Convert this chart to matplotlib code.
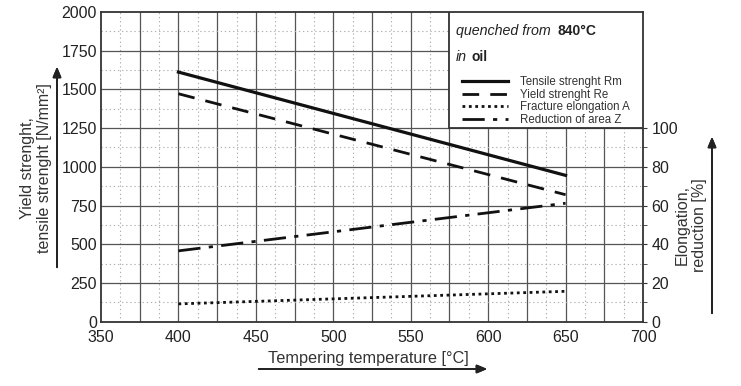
import matplotlib.pyplot as plt
from matplotlib.patches import Rectangle
from matplotlib.lines import Line2D
import numpy as np

plt.rcParams['font.family'] = ['Liberation Sans', 'DejaVu Sans']

# data
temp = [400, 650]
tensile_rm = [1612, 945]
yield_re = [1472, 820]
elong_a = [9.2, 15.7]
reduct_z = [36.6, 61.2]

xticks = np.arange(350, 701, 50)
yticks = np.arange(0, 2001, 250)
rticks = np.arange(0, 101, 20)

W, H = 741, 386
fig = plt.figure(figsize=(W / 100, H / 100), dpi=100)
ax = fig.add_axes([101 / W, 1 - 321.7 / H, (643 - 101) / W, (321.7 - 12) / H])

ax.set_xlim(350, 700)
ax.set_ylim(0, 2000)
ax.set_xticks(xticks)
ax.set_yticks(yticks)
ax.tick_params(axis='both', which='both', length=0, labelsize=11.5, colors='#222222')
ax.tick_params(axis='x', pad=6)
ax.tick_params(axis='y', pad=3)

# grid: solid every 25 / 250, dotted in between
for x in np.arange(375, 700, 25):
    ax.axvline(x, color='#555555', lw=0.9, zorder=1)
for x in np.arange(362.5, 700, 25):
    ax.axvline(x, color='#b0b0b0', lw=0.8, ls=(0, (1.2, 2.5)), zorder=1)
for y in np.arange(250, 2000, 250):
    ax.axhline(y, color='#555555', lw=0.9, zorder=1)
for y in np.arange(125, 2000, 250):
    ax.axhline(y, color='#b0b0b0', lw=0.8, ls=(0, (1.2, 2.5)), zorder=1)

for s in ax.spines.values():
    s.set_color('#333333')
    s.set_linewidth(1.3)

ax.plot(temp, tensile_rm, color='#111111', lw=2.3, zorder=3)
ax.plot(temp, yield_re, color='#111111', lw=2.0, ls=(0, (6, 4)), zorder=3)

ax2 = ax.twinx()
ax2.set_ylim(0, 160)
ax2.set_yticks(rticks)
ax2.set_yticks(np.arange(0, 101, 10), minor=True)
ax2.tick_params(axis='y', which='major', length=3, color='#333333', labelsize=11.5,
                labelcolor='#222222', pad=3)
ax2.tick_params(axis='y', which='minor', length=3, color='#333333')
for s in ax2.spines.values():
    s.set_visible(False)
ax2.plot(temp, elong_a, color='#111111', lw=2.0, ls=(0, (1, 1.3)), zorder=3)
ax2.plot(temp, reduct_z, color='#111111', lw=2.0, ls=(0, (8, 3, 1.5, 3)), zorder=3)

# info box in top-right corner
ax.add_patch(Rectangle((575, 1250), 125, 750, facecolor='white', edgecolor='#333333',
                       lw=1.3, zorder=4))
fig.text(456 / W, 1 - 31 / H, 'quenched from', style='italic', fontsize=10.3,
         va='center', color='#222222')
fig.text(557 / W, 1 - 31 / H, '840°C', weight='bold', fontsize=10, va='center',
         color='#222222')
fig.text(456 / W, 1 - 57 / H, 'in', style='italic', fontsize=10.3, va='center',
         color='#222222')
fig.text(472 / W, 1 - 57 / H, 'oil', weight='bold', fontsize=10, va='center',
         color='#222222')

handles = [
    Line2D([], [], color='#111111', lw=2.3),
    Line2D([], [], color='#111111', lw=2.0, ls=(0, (6, 4))),
    Line2D([], [], color='#111111', lw=2.0, ls=(0, (1, 1.3))),
    Line2D([], [], color='#111111', lw=2.0, ls=(0, (8, 3, 1.5, 3))),
]
labels = ['Tensile strenght Rm', 'Yield strenght Re', 'Fracture elongation A', 'Reduction of area Z']
leg = fig.legend(handles, labels, loc='upper left', bbox_to_anchor=(462 / W, 1 - 76 / H),
                 frameon=False, fontsize=8.3, handlelength=4.0, handletextpad=1.0,
                 labelspacing=0.05, borderpad=0, borderaxespad=0)
for t in leg.get_texts():
    t.set_color('#333333')
leg.set_zorder(5)

# axis labels with arrows
fig.text(36 / W, 1 - 168 / H, 'Yield strenght,\ntensile strenght [N/mm²]', rotation=90,
         ha='center', va='center', fontsize=11.5, color='#333333', linespacing=1.2)
fig.text(691 / W, 1 - 225 / H, 'Elongation,\nreduction [%]', rotation=90,
         ha='center', va='center', fontsize=11.5, color='#333333', linespacing=1.2)
fig.text(368 / W, 1 - 358 / H, 'Tempering temperature [°C]', ha='center', va='center',
         fontsize=11.7, color='#333333')

arrow = dict(arrowstyle='-|>,head_length=0.6,head_width=0.25', color='#222222', lw=1.3)
fig.add_artist(plt.annotate('', xy=(57 / W, 1 - 64 / H), xytext=(57 / W, 1 - 270 / H),
                            xycoords='figure fraction', arrowprops=arrow))
fig.add_artist(plt.annotate('', xy=(712 / W, 1 - 134 / H), xytext=(712 / W, 1 - 316 / H),
                            xycoords='figure fraction', arrowprops=arrow))
fig.add_artist(plt.annotate('', xy=(490 / W, 1 - 369 / H), xytext=(256 / W, 1 - 369 / H),
                            xycoords='figure fraction', arrowprops=arrow))

fig.savefig('out.png', dpi=100)
